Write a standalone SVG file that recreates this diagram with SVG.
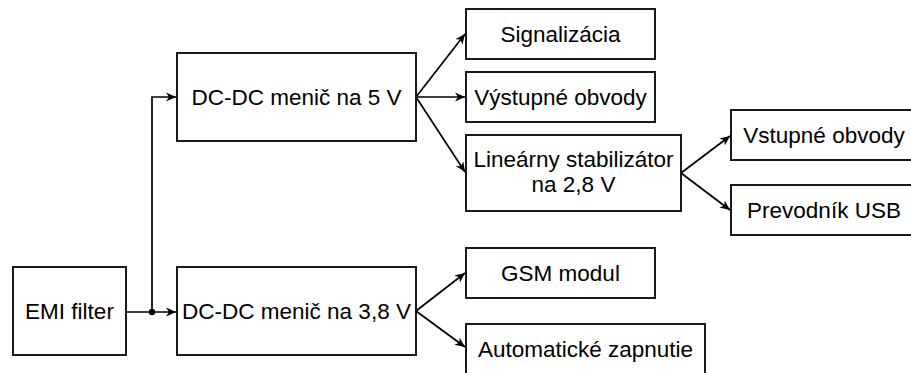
<svg xmlns="http://www.w3.org/2000/svg" width="911" height="373" viewBox="0 0 911 373">
<defs>
<style>
.box{fill:#fff;stroke:#1a1a1a;stroke-width:2}
.t{font-family:"Liberation Sans",Arial,sans-serif;font-size:22.5px;fill:#000;text-anchor:middle}
.c{fill:none;stroke:#000;stroke-width:1.7}
</style>
<marker id="ah" markerUnits="userSpaceOnUse" markerWidth="11" markerHeight="10" refX="10" refY="4.5" orient="auto" viewBox="0 0 11 9">
<path d="M0,0 L10,4.5 L0,9 L3,4.5 z" fill="#000"/>
</marker>
</defs>
<rect width="911" height="373" fill="#fff"/>
<g id="connectors">
<path class="c" d="M126,312 L176,312" marker-end="url(#ah)"/>
<path class="c" d="M152,312 L152,97 L176,97" marker-end="url(#ah)"/>
<circle cx="152" cy="312" r="3.2" fill="#000"/>
<path class="c" d="M416,97 L465,34" marker-end="url(#ah)"/>
<path class="c" d="M416,97 L465,97" marker-end="url(#ah)"/>
<path class="c" d="M416,97 L465,172" marker-end="url(#ah)"/>
<path class="c" d="M681,173 L730,136" marker-end="url(#ah)"/>
<path class="c" d="M681,173 L730,210" marker-end="url(#ah)"/>
<path class="c" d="M416,311 L465,273" marker-end="url(#ah)"/>
<path class="c" d="M416,311 L465,347" marker-end="url(#ah)"/>
</g>
<g id="emi"><rect class="box" x="13" y="267" width="113" height="88"/><text class="t" x="69.5" y="319">EMI filter</text></g>
<g id="dc5"><rect class="box" x="177" y="53" width="239" height="88"/><text class="t" x="296.5" y="105">DC-DC menič na 5 V</text></g>
<g id="dc38"><rect class="box" x="177" y="267" width="239" height="88"/><text class="t" x="296.5" y="319">DC-DC menič na 3,8 V</text></g>
<g id="sig"><rect class="box" x="466" y="9" width="189" height="50"/><text class="t" x="560.5" y="42">Signalizácia</text></g>
<g id="vyst"><rect class="box" x="466" y="72" width="189" height="50"/><text class="t" x="560.5" y="105">Výstupné obvody</text></g>
<g id="lin"><rect class="box" x="466" y="135" width="215" height="76"/><text class="t" x="573.5" y="167">Lineárny stabilizátor</text><text class="t" x="573.5" y="192">na 2,8 V</text></g>
<g id="vstup"><rect class="box" x="731" y="110" width="190" height="50"/><text class="t" x="824" y="143">Vstupné obvody</text></g>
<g id="usb"><rect class="box" x="731" y="185" width="190" height="50"/><text class="t" x="824" y="218">Prevodník USB</text></g>
<g id="gsm"><rect class="box" x="466" y="248" width="189" height="50"/><text class="t" x="560.5" y="281">GSM modul</text></g>
<g id="auto"><rect class="box" x="466" y="324" width="239" height="60"/><text class="t" x="585.5" y="357">Automatické zapnutie</text></g>
</svg>
